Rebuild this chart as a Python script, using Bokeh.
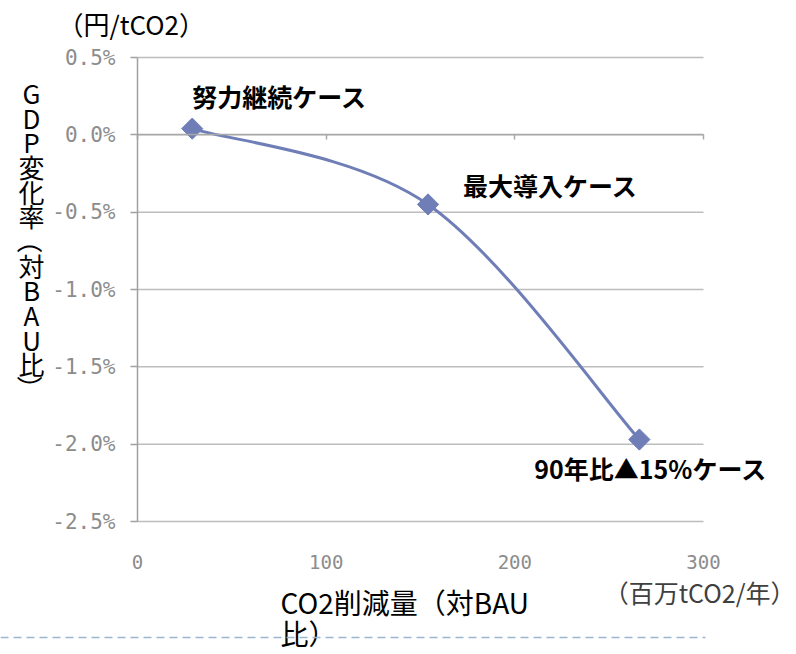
import math
from bokeh.plotting import figure
from bokeh.models import (Label, LinearAxis, FixedTicker, PrintfTickFormatter,
                          Range1d, Arrow)
from bokeh.embed import file_html
from bokeh.resources import INLINE

# ---------------- data ----------------
reduction = [29, 154, 266]            # CO2削減量（百万tCO2/年）
gdp_change = [0.04, -0.45, -1.97]     # GDP変化率（%）
case_names = ["努力継続ケース", "最大導入ケース", "90年比▲15%ケース"]
x_ticks = [0, 100, 200, 300]
y_ticks = [-2.5, -2.0, -1.5, -1.0, -0.5, 0.0, 0.5]
y_unit_text = "（円/tCO2）"
x_unit_text = "（百万tCO2/年）"
x_title_lines = ["CO2削減量（対BAU", "比）"]
y_title_chars = list("GDP変化率（対BAU比）")

# ---------------- layout / style ----------------
W, H = 796, 654
# pixel placement of the plot area inside the canvas
PX_X0, PX_X1 = 137, 703      # x = x_ticks[0], x_ticks[-1]
PX_YT, PX_YB = 57, 521       # y = y_ticks[-1], y_ticks[0]

JP = "Noto Sans CJK JP"
MONO = "DejaVu Sans Mono"
SERIES = "#6f7eb7"
GRID = "#bdbdbd"
AXIS = "#a0a0a0"
TICKTXT = "#8c8c8c"

xlo, xhi = x_ticks[0], x_ticks[-1]
ylo, yhi = y_ticks[0], y_ticks[-1]
kx = (PX_X1 - PX_X0) / (xhi - xlo)
ky = (PX_YB - PX_YT) / (yhi - ylo)
x_range = Range1d(xlo - PX_X0 / kx, xhi + (W - PX_X1) / kx)
y_range = Range1d(ylo - (H - PX_YB) / ky, yhi + PX_YT / ky)

p = figure(width=W, height=H, x_range=x_range, y_range=y_range,
           output_backend="svg", toolbar_location=None,
           min_border=0, min_border_left=0, min_border_right=0,
           min_border_top=0, min_border_bottom=0,
           x_axis_type=None, y_axis_type=None)
p.outline_line_color = None
p.background_fill_color = "white"
p.border_fill_color = "white"
p.grid.visible = False

# horizontal gridlines over the plot area
p.segment(x0=[xlo] * len(y_ticks), x1=[xhi] * len(y_ticks), y0=y_ticks, y1=y_ticks,
          line_color=GRID, line_width=1.5, level="underlay")

# left value axis at x = 0
yax = LinearAxis(ticker=FixedTicker(ticks=y_ticks), fixed_location=xlo, bounds=(ylo, yhi),
                 formatter=PrintfTickFormatter(format="%.1f%%"))
yax.axis_line_color = AXIS
yax.axis_line_width = 1.5
yax.major_tick_line_color = AXIS
yax.major_tick_line_width = 1.5
yax.major_tick_out = 7
yax.major_tick_in = 0
yax.minor_tick_line_color = None
yax.major_label_standoff = 15
yax.major_label_text_font = MONO
yax.major_label_text_font_size = "21px"
yax.major_label_text_color = TICKTXT
p.add_layout(yax, "left")

# x tick labels along the bottom of the plot area
xax = LinearAxis(ticker=FixedTicker(ticks=x_ticks), fixed_location=ylo, bounds=(xlo, xhi))
xax.axis_line_color = None
xax.major_tick_line_color = None
xax.minor_tick_line_color = None
xax.major_tick_out = 0
xax.major_tick_in = 0
xax.major_label_standoff = 33
xax.major_label_text_font = MONO
xax.major_label_text_font_size = "19px"
xax.major_label_text_color = TICKTXT
p.add_layout(xax, "below")

# horizontal axis line crossing at 0%
zax = LinearAxis(ticker=FixedTicker(ticks=x_ticks), fixed_location=0, bounds=(xlo, xhi))
zax.axis_line_color = "#a8a8a8"
zax.axis_line_width = 1.5
zax.major_tick_line_color = "#a8a8a8"
zax.major_tick_line_width = 1.5
zax.major_tick_out = 5
zax.major_tick_in = 0
zax.minor_tick_line_color = None
zax.major_label_text_font_size = "0px"
zax.major_label_text_color = None
p.add_layout(zax, "below")

# smooth line (Excel-like smoothing: bezier through the points)
pts = list(zip(reduction, gdp_change))
n = len(pts)
x0s, y0s, x1s, y1s, cx0s, cy0s, cx1s, cy1s = ([] for _ in range(8))
for i in range(n - 1):
    a = pts[max(i - 1, 0)]
    b = pts[i]
    c = pts[i + 1]
    d = pts[min(i + 2, n - 1)]
    x0s.append(b[0]); y0s.append(b[1])
    x1s.append(c[0]); y1s.append(c[1])
    cx0s.append(b[0] + (c[0] - a[0]) / 6.0); cy0s.append(b[1] + (c[1] - a[1]) / 6.0)
    cx1s.append(c[0] - (d[0] - b[0]) / 6.0); cy1s.append(c[1] - (d[1] - b[1]) / 6.0)
p.bezier(x0=x0s, y0=y0s, x1=x1s, y1=y1s, cx0=cx0s, cy0=cy0s, cx1=cx1s, cy1=cy1s,
         line_color=SERIES, line_width=3)
p.scatter(reduction, gdp_change, marker="square", angle=math.pi / 4, size=15,
          fill_color=SERIES, line_color=SERIES)

# case labels next to the points
offsets = [(0, 33), (35, 19), (-105, -28)]
for xv, yv, name, (dx, dy) in zip(reduction, gdp_change, case_names, offsets):
    p.add_layout(Label(x=xv, y=yv, x_offset=dx, y_offset=dy, text=name,
                       text_font=JP, text_font_style="bold", text_font_size="25px",
                       text_color="black", text_align="left", text_baseline="middle"))

# canvas pixel helpers (frame == whole canvas, y measured up from bottom)
def sx(px):
    return px

def sy(py):
    return H - py

# unit label top-left
p.add_layout(Label(x=sx(57), y=sy(23), x_units="screen", y_units="screen", text=y_unit_text,
                   text_font=JP, text_font_size="26px", text_color="black",
                   text_align="left", text_baseline="middle"))

# vertical y-axis title (stacked characters)
for k, ch in enumerate(y_title_chars):
    ang = -math.pi / 2 if ch in "（）" else 0
    p.add_layout(Label(x=sx(31), y=sy(92 + 24.67 * k), x_units="screen", y_units="screen",
                       text=ch, angle=ang, text_font=JP, text_font_size="26px",
                       text_color="black", text_align="center", text_baseline="middle"))

# x unit label
p.add_layout(Label(x=sx(795), y=sy(591), x_units="screen", y_units="screen", text=x_unit_text,
                   text_font=JP, text_font_size="25px", text_color="#404040",
                   text_align="right", text_baseline="middle"))

# x-axis title (two lines)
for txt, cy in zip(x_title_lines, [601, 632]):
    p.add_layout(Label(x=sx(280), y=sy(cy), x_units="screen", y_units="screen", text=txt,
                       text_font=JP, text_font_size="28px", text_color="black",
                       text_align="left", text_baseline="middle"))

# dashed separator line at the bottom
p.add_layout(Arrow(end=None, x_start=sx(0), y_start=sy(637), x_end=sx(705), y_end=sy(637),
                   start_units="screen", end_units="screen",
                   line_color="#9db5cf", line_width=1.5, line_dash="8 5"))

open("out.html", "w").write(file_html(p, INLINE))
